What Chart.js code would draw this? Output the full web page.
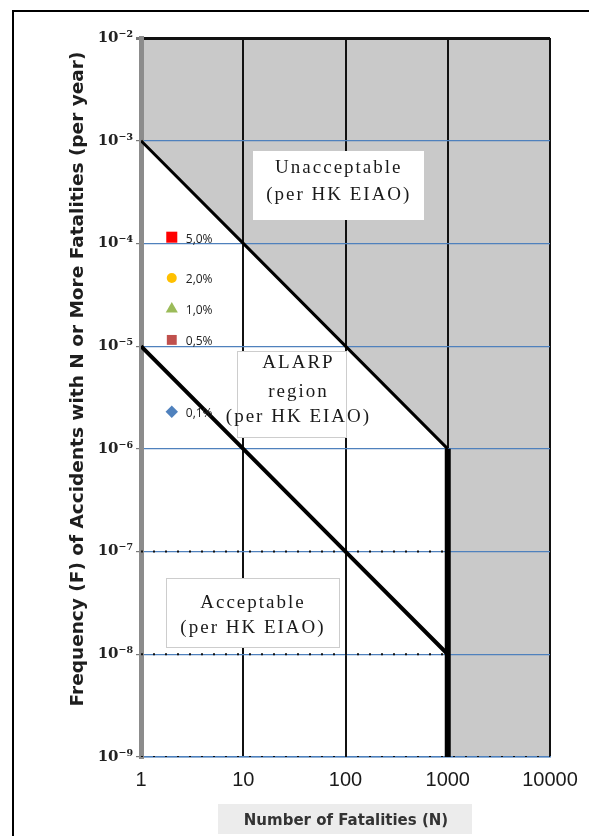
<!DOCTYPE html>
<html>
<head>
<meta charset="utf-8">
<title>F-N curve</title>
<script src="https://cdn.jsdelivr.net/npm/chart.js@4.4.1/dist/chart.umd.min.js"></script>
<style>
  html, body { margin: 0; padding: 0; background: #fff; }
  body { width: 589px; height: 836px; overflow: hidden; position: relative; }
  #frame { position: absolute; left: 12px; top: 10px; width: 640px; height: 900px;
           border-left: 2px solid #000; border-top: 2px solid #000; }
  #wrap { position: absolute; left: 0; top: 0; width: 589px; height: 836px; }
</style>
</head>
<body>
<div id="frame"></div>
<div id="wrap"><canvas id="fn" width="589" height="836"></canvas></div>
<script>
// axis decades
const decadesN = [1, 10, 100, 1000, 10000];
const decadesF = [1e-2, 1e-3, 1e-4, 1e-5, 1e-6, 1e-7, 1e-8, 1e-9];

// HK EIAO criterion lines
const upperN = [1, 10, 100, 1000, 1000, 10000];
const upperF = [1e-3, 1e-4, 1e-5, 1e-6, 1e-9, 1e-9];
const lowerN = [1, 10, 100, 1000];
const lowerF = [1e-5, 1e-6, 1e-7, 1e-8];

// dotted guide lines along the lower decades
const dotF = [1e-7, 1e-8, 1e-9];
const dotEndN = [1000, 1000, 10000];

// case points
const caseLabels = ['5,0%', '2,0%', '1,0%', '0,5%', '0,1%'];
const caseN = [2, 2, 2, 2, 2];
const caseF = [1.15e-4, 4.6e-5, 2.3e-5, 1.15e-5, 2.3e-6];

// region captions
const regionLines = [
  ['Unacceptable', '(per HK EIAO)'],
  ['ALARP', 'region', '(per HK EIAO)'],
  ['Acceptable', '(per HK EIAO)']
];
const regionN = [86, 30.3, 12.45];
const regionF = [3.66e-4, 3.38e-6, 2.52e-8];

const caseColors = ['#ff0000', '#ffc000', '#9bbb59', '#c0504d', '#4f81bd'];
const caseShapes = ['rect', 'circle', 'triangle', 'rect', 'rectRot'];
const caseRadius = [7.8, 5, 7, 7, 6.2];

const boxStyle = [
  { w: 171, h: 69, dx: 0, lineY: [-17.5, 9.5], border: null },
  { w: 110, h: 87, dx: 6, lineY: [-31.5, -2.5, 22.5], border: '#9a9a9a' },
  { w: 174, h: 70, dx: 0, lineY: [-10, 15], border: '#9a9a9a' }
];

const sup = { '-': '\u207b', '0': '\u2070', '1': '\u00b9', '2': '\u00b2', '3': '\u00b3',
  '4': '\u2074', '5': '\u2075', '6': '\u2076', '7': '\u2077', '8': '\u2078', '9': '\u2079' };
function powLabel(v) {
  const e = String(Math.round(Math.log10(v)));
  return '10' + e.split('').map(ch => sup[ch]).join('');
}

const pts = (xs, ys) => xs.map((x, i) => ({ x: x, y: ys[i] }));

const datasets = [];

// unacceptable zone: filled from the upper criterion to the top edge
datasets.push({
  data: pts(upperN, upperF),
  showLine: true,
  pointRadius: 0,
  borderColor: '#000',
  borderWidth: 3,
  fill: 'end',
  backgroundColor: '#c9c9c9',
  segment: {
    borderWidth: c => (c.p0DataIndex === 3 ? 6 : 3),
    borderColor: c => (c.p0DataIndex === 4 ? 'rgba(0,0,0,0)' : '#000')
  },
  order: 5
});

datasets.push({
  data: pts(lowerN, lowerF),
  showLine: true,
  pointRadius: 0,
  borderColor: '#000',
  borderWidth: 4,
  fill: false,
  order: 4
});

dotF.forEach((f, i) => {
  datasets.push({
    data: [{ x: 1, y: f }, { x: dotEndN[i], y: f }],
    showLine: true,
    pointRadius: 0,
    borderColor: '#111',
    borderWidth: 2,
    borderDash: [2, 10],
    fill: false,
    order: 6
  });
});

caseLabels.forEach((lab, i) => {
  datasets.push({
    label: lab,
    caseLabel: lab,
    data: [{ x: caseN[i], y: caseF[i] }],
    showLine: false,
    pointStyle: caseShapes[i],
    pointRadius: caseRadius[i],
    pointBackgroundColor: caseColors[i],
    pointBorderColor: caseColors[i],
    pointBorderWidth: 0,
    order: 1
  });
});

const overlays = {
  id: 'overlays',
  afterDatasetsDraw(chart) {
    const ctx = chart.ctx;
    const xs = chart.scales.x, ys = chart.scales.y;

    // case labels next to markers
    ctx.save();
    ctx.font = '12px "Open Sans", "DejaVu Sans", sans-serif';
    ctx.fillStyle = '#222';
    ctx.textBaseline = 'middle';
    ctx.textAlign = 'left';
    chart.data.datasets.forEach((ds, i) => {
      if (!ds.caseLabel) return;
      const el = chart.getDatasetMeta(i).data[0];
      ctx.fillText(ds.caseLabel, el.x + 14, el.y + 2);
    });
    ctx.restore();

    // region caption boxes
    regionLines.forEach((lines, i) => {
      const st = boxStyle[i];
      const cx = xs.getPixelForValue(regionN[i]);
      const cy = ys.getPixelForValue(regionF[i]);
      const x0 = Math.round(cx - st.w / 2), y0 = Math.round(cy - st.h / 2);
      ctx.save();
      ctx.fillStyle = '#fff';
      ctx.fillRect(x0, y0, st.w, st.h);
      if (st.border) {
        ctx.strokeStyle = st.border;
        ctx.lineWidth = 1;
        ctx.setLineDash([1, 1]);
        ctx.strokeRect(x0 + 0.5, y0 + 0.5, st.w - 1, st.h - 1);
      }
      ctx.font = '19px "Liberation Serif", serif';
      ctx.letterSpacing = '2px';
      ctx.fillStyle = '#1a1a1a';
      ctx.textAlign = 'center';
      ctx.textBaseline = 'middle';
      lines.forEach((t, k) => ctx.fillText(t, cx + st.dx, cy + st.lineY[k]));
      ctx.restore();
    });
  },
  afterDraw(chart) {
    const ctx = chart.ctx;
    ctx.save();
    // y title
    ctx.translate(78, 379);
    ctx.rotate(-Math.PI / 2);
    ctx.font = 'bold 18.5px "DejaVu Sans", sans-serif';
    ctx.fillStyle = '#1e1e1e';
    ctx.textAlign = 'center';
    ctx.textBaseline = 'middle';
    ctx.fillText('Frequency (F) of Accidents with N or More Fatalities (per year)', 0, 0);
    ctx.restore();

    // x title on its pale panel
    ctx.save();
    ctx.fillStyle = '#ececec';
    ctx.fillRect(218, 804, 254, 30);
    ctx.font = 'bold 15px "DejaVu Sans", sans-serif';
    ctx.fillStyle = '#333';
    ctx.textAlign = 'center';
    ctx.textBaseline = 'middle';
    ctx.fillText('Number of Fatalities (N)', 346, 821);
    ctx.restore();
  }
};

new Chart(document.getElementById('fn'), {
  type: 'scatter',
  data: { datasets: datasets },
  options: {
    responsive: false,
    animation: false,
    events: [],
    layout: { padding: { left: 64, top: 38, right: 39, bottom: 0 } },
    plugins: {
      legend: { display: false },
      tooltip: { enabled: false },
      filler: { drawTime: 'beforeDraw' }
    },
    scales: {
      x: {
        type: 'logarithmic',
        min: 1,
        max: 10000,
        afterBuildTicks: s => { s.ticks = decadesN.map(v => ({ value: v })); },
        afterFit: s => { s.height = 79; },
        ticks: {
          callback: v => String(v),
          autoSkip: false,
          maxRotation: 0,
          padding: 11,
          color: '#1a1a1a',
          font: { family: '"Liberation Sans Narrow", "Liberation Sans", sans-serif', size: 20 }
        },
        grid: {
          color: c => (c.tick && c.tick.value === 1 ? 'rgba(0,0,0,0)' : '#111'),
          lineWidth: 2,
          drawTicks: false
        },
        border: { color: '#4f81bd', width: 1.5 }
      },
      y: {
        type: 'logarithmic',
        min: 1e-9,
        max: 1e-2,
        afterBuildTicks: s => { s.ticks = decadesF.map(v => ({ value: v })); },
        afterFit: s => { s.width = 77; },
        ticks: {
          callback: v => powLabel(v),
          autoSkip: false,
          padding: 3,
          color: '#222',
          font: { family: '"DejaVu Serif", serif', size: 15, weight: 'bold' }
        },
        grid: {
          color: c => (c.tick && c.tick.value === 1e-2 ? '#111' : '#4f81bd'),
          lineWidth: c => (c.tick && c.tick.value === 1e-2 ? 3 : 1.2),
          tickLength: 5,
          tickColor: '#777'
        },
        border: { color: '#8c8c8c', width: 5 }
      }
    }
  },
  plugins: [overlays]
});
</script>
</body>
</html>
